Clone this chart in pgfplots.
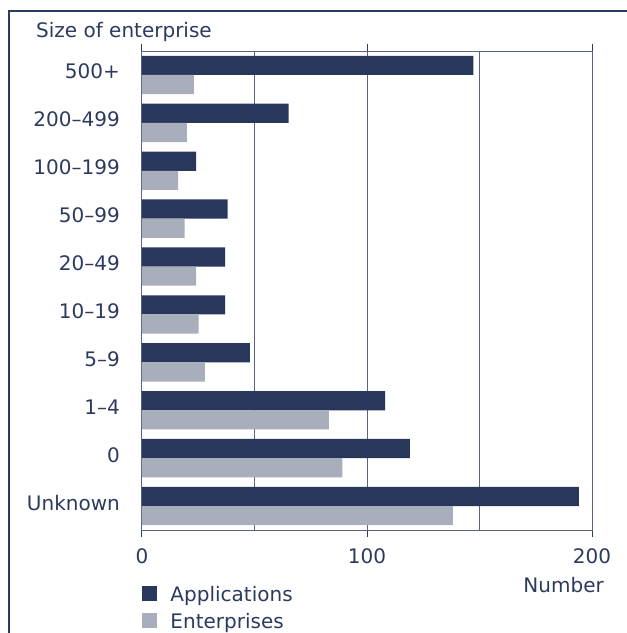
\documentclass[border=0pt]{standalone}
\usepackage{pgfplots}
\pgfplotsset{compat=1.18}
\usepackage{fontspec}
\setmainfont{DejaVu Sans}
\definecolor{navy}{HTML}{29375A}
\definecolor{lgray}{HTML}{A8AEBB}
\definecolor{txt}{HTML}{2B3A5E}
\definecolor{gridc}{HTML}{5A6482}
\begin{document}
\fontsize{20}{24}\selectfont
\begin{tikzpicture}[x=1pt,y=1pt]
\useasboundingbox (0,0) rectangle (627,-633);
\draw[txt, line width=1.3pt] (9,-633) -- (9,-11) -- (627,-11);
\begin{axis}[
  at={(142pt,-530pt)}, anchor=south west,
  scale only axis, width=450pt, height=479pt,
  xbar, bar width=0.4,
  xmin=0, xmax=200, ymin=-0.5, ymax=9.5,
  /pgf/number format/assume math mode=true,
  xtick={0,100,200},
  tick align=outside, major tick length=7pt,
  x tick style={txt, line width=1pt},
  extra x ticks={50,100,150}, extra x tick labels={},
  extra x tick style={grid=major, major tick length=0pt, grid style={gridc, line width=1pt}},
  ytick={0,...,9},
  yticklabels={Unknown,0,1–4,5–9,10–19,20–49,50–99,100–199,200–499,500+},
  y tick style={draw=none},
  yticklabel style={anchor=base east, inner sep=0pt, xshift=-15pt, yshift=-4pt},
  xticklabel style={inner sep=0pt, yshift=-11pt},
  every tick label/.append style={text=txt},
  axis line style={gridc, line width=1pt},
  title={Size of enterprise},
  title style={at={(axis description cs:0,1)}, anchor=base west, inner sep=0pt, xshift=-106pt, yshift=7.3pt, text=txt},
  xlabel={Number},
  xlabel style={at={(axis description cs:1,0)}, anchor=east, inner sep=0pt, xshift=12pt, yshift=-55pt, text=txt},
  legend style={at={(axis description cs:0,0)}, anchor=north west, yshift=-56pt, draw=none, fill=none, inner sep=0pt, outer sep=0pt, row sep=9pt, nodes={inner sep=0pt, text=txt, anchor=base west},
    /tikz/every odd column/.append style={column sep=13.5pt}},
  legend cell align=left,
  legend image code/.code={\fill[#1,draw=none] (0pt,0pt) rectangle (15pt,15pt);},
]
\addplot[fill=navy, draw=none, bar shift=0.2] coordinates {
 (194.2,0) (119.1,1) (108,2) (48,3) (37,4) (37,5) (38.1,6) (24.1,7) (65.2,8) (147.3,9)};
\addplot[fill=lgray, draw=none, bar shift=-0.2] coordinates {
 (138.2,0) (89,1) (83.1,2) (28,3) (25.2,4) (24.1,5) (19,6) (16.1,7) (20,8) (23.1,9)};
\legend{Applications,Enterprises}
\end{axis}
\end{tikzpicture}
\end{document}
